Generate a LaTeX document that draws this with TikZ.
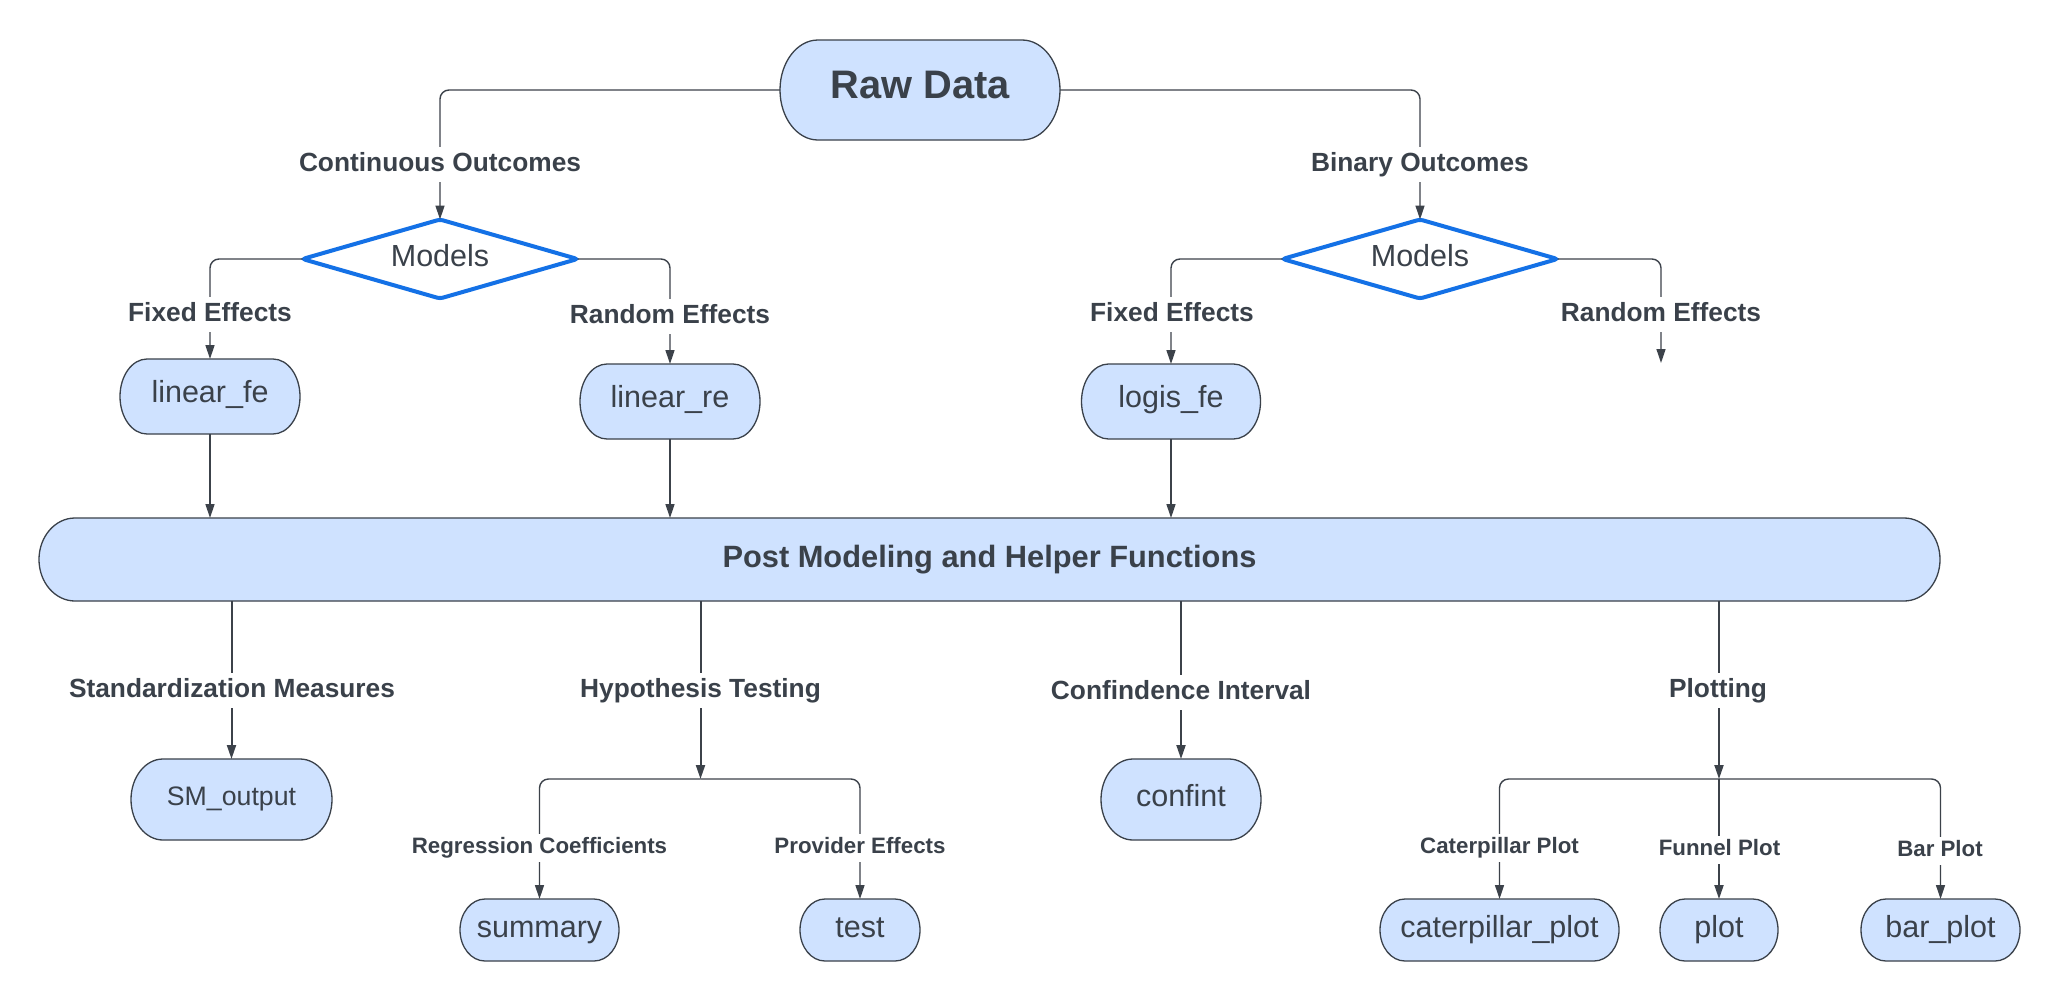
\documentclass[tikz,border=0pt]{standalone}
\usepackage{fontspec}
\setmainfont{Liberation Sans}
\usetikzlibrary{arrows.meta,shapes.geometric}
\pgfdeclarelayer{background}
\pgfsetlayers{background,main}
\definecolor{nodefill}{RGB}{207,226,255}
\definecolor{ink}{RGB}{58,65,74}
\definecolor{linec}{RGB}{60,66,74}
\definecolor{diablue}{RGB}{20,113,230}
\newcommand\termshape[3]{%
  \begin{pgfonlayer}{background}
  \draw[termline] ([xshift=#2]#1.north west) -- ([xshift=-#2]#1.north east)
    arc[start angle=90,end angle=-90,x radius=#2,y radius=#3]
    -- ([xshift=#2]#1.south west)
    arc[start angle=270,end angle=90,x radius=#2,y radius=#3] -- cycle;
  \end{pgfonlayer}}
\tikzset{
  termline/.style={fill=nodefill,draw=ink,line width=1.3bp},
  term/.style={rectangle,draw=none,inner sep=0pt,outer sep=0pt,text=ink,
    font=\fontsize{30.5bp}{36bp}\selectfont,text height=22bp,text depth=11bp},
  lowterm/.style={term,text depth=8bp},
  dia/.style={diamond,draw=diablue,line width=4bp,fill=white,inner sep=0pt,outer sep=0pt,
    minimum width=275bp,minimum height=79bp,aspect=3.48,rounded corners=3bp,text=ink,
    font=\fontsize{30.5bp}{36bp}\selectfont,text height=22bp,text depth=8bp},
  lab/.style={anchor=base,fill=white,text=ink,inner xsep=3bp,inner ysep=5bp,
    font=\bfseries\fontsize{26.3bp}{31bp}\selectfont,text height=19bp,text depth=6bp},
  slab/.style={anchor=base,fill=white,text=ink,inner xsep=3bp,inner ysep=3bp,
    font=\bfseries\fontsize{22.3bp}{27bp}\selectfont,text height=16bp,text depth=6bp},
  conn/.style={draw=linec,line width=1.4bp,rounded corners=9bp,
    -{Triangle[length=14bp,width=9bp]}},
  conn2/.style={conn,line width=2bp}
}
\begin{document}
\begin{tikzpicture}[x=1bp,y=-1bp]
\useasboundingbox (0,0) rectangle (2060,1001);
\begin{pgfonlayer}{background}
\fill[white] (0,0) rectangle (2060,1001);
\end{pgfonlayer}
% nodes
\node[term,minimum width=280bp,minimum height=100bp,
  font=\bfseries\fontsize{39.8bp}{46bp}\selectfont,text height=28.5bp,text depth=11bp]
  (raw) at (920,90) {Raw Data};
\node[dia] (dl) at (440,259) {Models};
\node[dia] (dr) at (1420,259) {Models};
\node[term,minimum width=180bp,minimum height=75bp] (linfe) at (210,396.5) {linear\_fe};
\node[term,minimum width=180bp,minimum height=75bp] (linre) at (670,401.5) {linear\_re};
\node[term,minimum width=179bp,minimum height=75bp] (logfe) at (1171,401.5) {logis\_fe};
\node[term,minimum width=1901bp,minimum height=83bp,
  font=\bfseries\fontsize{30.8bp}{36bp}\selectfont,text height=22bp,text depth=7bp]
  (post) at (989.5,559.5) {Post Modeling and Helper Functions};
\node[term,minimum width=201bp,minimum height=81bp,
  font=\fontsize{26.7bp}{32bp}\selectfont,text height=19bp,text depth=7bp]
  (sm) at (231.5,799.5) {SM\_output};
\node[lowterm,minimum width=160bp,minimum height=81bp] (ci) at (1181,799.5) {confint};
\node[lowterm,minimum width=159bp,minimum height=62bp] (summ) at (539.5,930) {summary};
\node[lowterm,minimum width=120bp,minimum height=62bp] (test) at (860,930) {test};
\node[lowterm,minimum width=239bp,minimum height=62bp] (cat) at (1499.5,930) {caterpillar\_plot};
\node[lowterm,minimum width=118bp,minimum height=62bp] (plot) at (1719,930) {plot};
\node[lowterm,minimum width=159bp,minimum height=62bp] (barp) at (1940.5,930) {bar\_plot};
% shapes
\termshape{raw}{38bp}{50bp}
\termshape{linfe}{27bp}{37.5bp}
\termshape{linre}{27bp}{37.5bp}
\termshape{logfe}{27bp}{37.5bp}
\termshape{post}{36bp}{41.5bp}
\termshape{sm}{32bp}{40.5bp}
\termshape{ci}{32bp}{40.5bp}
\termshape{summ}{25bp}{31bp}
\termshape{test}{25bp}{31bp}
\termshape{cat}{25bp}{31bp}
\termshape{plot}{25bp}{31bp}
\termshape{barp}{25bp}{31bp}
% top connectors
\draw[conn] (raw.west) -| (dl.north);
\node[lab] (lco) at (440,171) {Continuous Outcomes};
\draw[conn] (raw.east) -| (dr.north);
\node[lab] (lbo) at (1420,171) {Binary Outcomes};
\draw[conn] (dl.west) -| (linfe.north);
\node[lab] (lfl) at (210,321) {Fixed Effects};
\draw[conn] (dl.east) -| (linre.north);
\node[lab] (lrl) at (670,323) {Random Effects};
\draw[conn] (dr.west) -| (logfe.north);
\node[lab] (lfr) at (1172,321) {Fixed Effects};
\coordinate (rend) at (1661,363);
\draw[conn] (dr.east) -| (rend);
\node[lab] (lrr) at (1661,321) {Random Effects};
% into post
\draw[conn] (linfe.south) -- (linfe.south |- post.north);
\draw[conn] (linre.south) -- (linre.south |- post.north);
\draw[conn] (logfe.south) -- (logfe.south |- post.north);
% out of post
\draw[conn2] (post.south -| sm.north) -- (sm.north);
\node[lab] (lsm) at (232,697) {Standardization Measures};
\coordinate (hb) at (700.5,779);
\draw[conn2] (post.south -| hb) -- (hb);
\node[lab] (lht) at (700.5,697) {Hypothesis Testing};
\draw[conn2] (post.south -| ci.north) -- (ci.north);
\node[lab] (lci) at (1181,699) {Confindence Interval};
\coordinate (pb) at (1719,779);
\draw[conn2] (post.south -| pb) -- (pb);
\node[lab] (lpl) at (1718,697) {Plotting};
% hypothesis children
\draw[conn] (hb) -| (summ.north);
\draw[conn] (hb) -| (test.north);
\node[slab] (lrc) at (539.5,853) {Regression Coefficients};
\node[slab] (lpe) at (860,853) {Provider Effects};
% plotting children
\draw[conn] (pb) -| (cat.north);
\draw[conn2] (pb) -- (plot.north);
\draw[conn] (pb) -| (barp.north);
\node[slab] (lcp) at (1499.5,853) {Caterpillar Plot};
\node[slab] (lfp) at (1719.5,855) {Funnel Plot};
\node[slab] (lbp) at (1940,856) {Bar Plot};
\end{tikzpicture}
\end{document}
